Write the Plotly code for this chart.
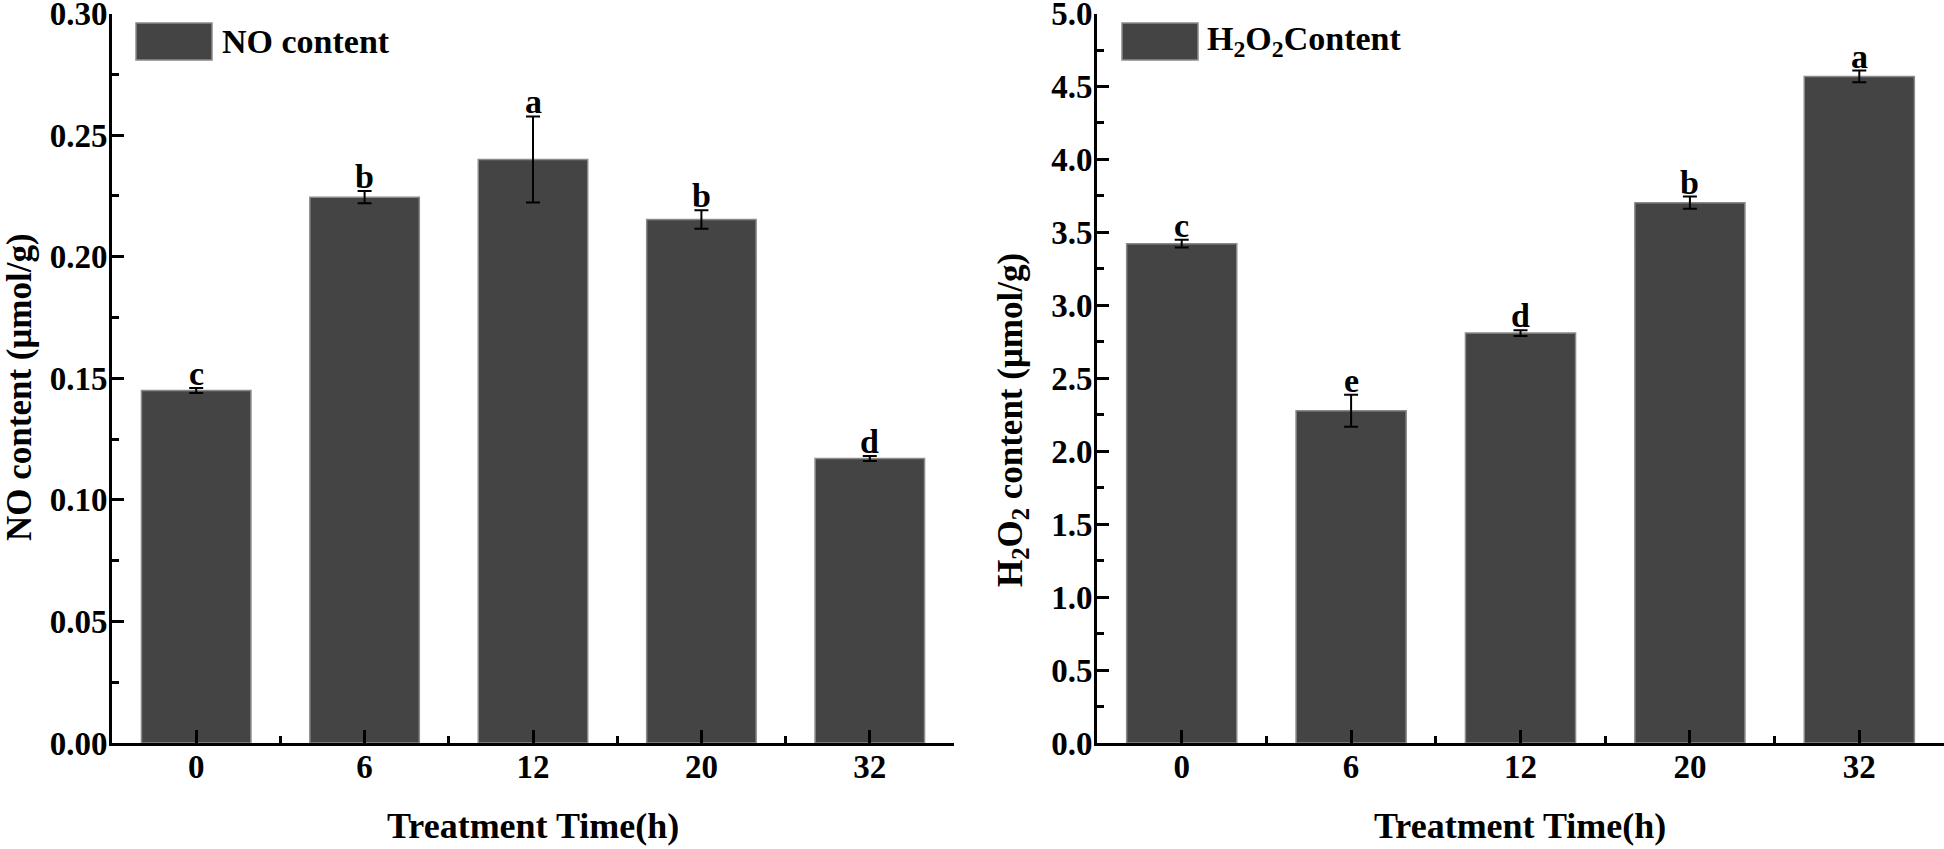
import plotly.graph_objects as go

# ---------------- data ----------------
categories = ["0", "6", "12", "20", "32"]
no_values = [0.145, 0.2245, 0.240, 0.2153, 0.117]
no_errors = [0.001, 0.0025, 0.0177, 0.0038, 0.001]
no_letters = ["c", "b", "a", "b", "d"]
no_ticks = [0.00, 0.05, 0.10, 0.15, 0.20, 0.25, 0.30]

h2o2_values = [3.423, 2.277, 2.810, 3.704, 4.569]
h2o2_errors = [0.027, 0.11, 0.02, 0.042, 0.04]
h2o2_letters = ["c", "e", "d", "b", "a"]
h2o2_ticks = [0.0, 0.5, 1.0, 1.5, 2.0, 2.5, 3.0, 3.5, 4.0, 4.5, 5.0]

W, H = 1944, 849
FONT = "Liberation Serif"
BAR = "#444444"
EDGE = "#8a8a8a"

def px(x):
    return x / W

def py(y):
    return 1 - y / H

xs = list(range(len(categories)))

fig = go.Figure()

fig.add_trace(go.Bar(
    x=xs, y=no_values, width=0.65,
    marker=dict(color=BAR, line=dict(color=EDGE, width=1.5)),
    error_y=dict(type="data", array=no_errors, color="black", thickness=2, width=7),
    xaxis="x", yaxis="y", showlegend=False, hoverinfo="skip",
))
fig.add_trace(go.Bar(
    x=xs, y=h2o2_values, width=0.65,
    marker=dict(color=BAR, line=dict(color=EDGE, width=1.5)),
    error_y=dict(type="data", array=h2o2_errors, color="black", thickness=2, width=7),
    xaxis="x2", yaxis="y2", showlegend=False, hoverinfo="skip",
))

tickfont = dict(family=FONT, size=33, color="black", weight="bold")

common_x = dict(
    range=[-0.5, 4.5], tickmode="array", tickvals=xs, ticktext=categories,
    ticks="inside", ticklen=13, tickwidth=3, tickcolor="black",
    showline=True, linecolor="black", linewidth=3, showgrid=False, zeroline=False,
    tickfont=tickfont, ticklabelstandoff=-8, ticklabeloverflow="allow",
    minor=dict(tickvals=[i + 0.5 for i in range(-1, len(categories))],
               ticks="inside", ticklen=7, tickwidth=3, tickcolor="black"),
    automargin=False, fixedrange=True,
)

def yaxis_cfg(ticks, fmt, anchor):
    step = ticks[1] - ticks[0]
    minor_vals = [t + step / 2 for t in ticks[:-1]]
    return dict(
        domain=[py(743), py(13.5)], anchor=anchor,
        range=[0, ticks[-1] * 1.0001], tickmode="array", tickvals=ticks,
        ticktext=[format(t, fmt) for t in ticks],
        ticks="inside", ticklen=12, tickwidth=3, tickcolor="black",
        showline=True, linecolor="black", linewidth=3, showgrid=False, zeroline=False,
        tickfont=tickfont, ticklabelstandoff=-5, ticklabeloverflow="allow",
        minor=dict(tickvals=minor_vals, ticks="inside", ticklen=7, tickwidth=3, tickcolor="black"),
        automargin=False, fixedrange=True,
    )

fig.update_layout(
    width=W, height=H,
    margin=dict(l=0, r=0, t=0, b=0),
    paper_bgcolor="white", plot_bgcolor="white",
    font=dict(family=FONT, color="black"),
    xaxis=dict(domain=[px(112), px(954)], anchor="y", **common_x),
    xaxis2=dict(domain=[px(1097), 1.0], anchor="y2", **common_x),
    yaxis=yaxis_cfg(no_ticks, ".2f", "x"),
    yaxis2=yaxis_cfg(h2o2_ticks, ".1f", "x2"),
)

letter_font = dict(family=FONT, size=34, color="black", weight="bold")
for i, (v, e, l) in enumerate(zip(no_values, no_errors, no_letters)):
    fig.add_annotation(x=i, y=v + e, text=l, xref="x", yref="y", showarrow=False,
                       yanchor="bottom", yshift=-6, font=letter_font)
for i, (v, e, l) in enumerate(zip(h2o2_values, h2o2_errors, h2o2_letters)):
    fig.add_annotation(x=i, y=v + e, text=l, xref="x2", yref="y2", showarrow=False,
                       yanchor="bottom", yshift=-6, font=letter_font)

title_font = dict(family=FONT, size=36, color="black", weight="bold")
ytitle_font = dict(family=FONT, size=35, color="black", weight="bold")
# axis titles
fig.add_annotation(x=px(533), y=py(826), xref="paper", yref="paper", text="Treatment Time(h)",
                   showarrow=False, font=title_font, xanchor="center", yanchor="middle")
fig.add_annotation(x=px(1520), y=py(826), xref="paper", yref="paper", text="Treatment Time(h)",
                   showarrow=False, font=title_font, xanchor="center", yanchor="middle")
fig.add_annotation(x=px(19), y=py(387), xref="paper", yref="paper", text="NO content (μmol/g)",
                   showarrow=False, font=ytitle_font, textangle=-90, xanchor="center", yanchor="middle")
fig.add_annotation(x=px(1013), y=py(420), xref="paper", yref="paper",
                   text="H<sub>2</sub>O<sub>2</sub> content (μmol/g)",
                   showarrow=False, font=ytitle_font, textangle=-90, xanchor="center", yanchor="middle")

# legends (swatch + label)
legend_font = dict(family=FONT, size=34, color="black", weight="bold")
for (x0, x1, tx, label) in [(136, 212, 220, "NO content"),
                            (1122, 1198, 1205, "H<sub>2</sub>O<sub>2</sub>Content")]:
    fig.add_shape(type="rect", xref="paper", yref="paper",
                  x0=px(x0), x1=px(x1), y0=py(60), y1=py(23),
                  fillcolor=BAR, line=dict(color=EDGE, width=1.5))
    fig.add_annotation(x=px(tx), y=py(41), xref="paper", yref="paper", text=label,
                       showarrow=False, font=legend_font, xanchor="left", yanchor="middle")

fig.write_html("out.html", config={"displayModeBar": False, "staticPlot": True},
               post_script="document.body.style.margin='0';")
